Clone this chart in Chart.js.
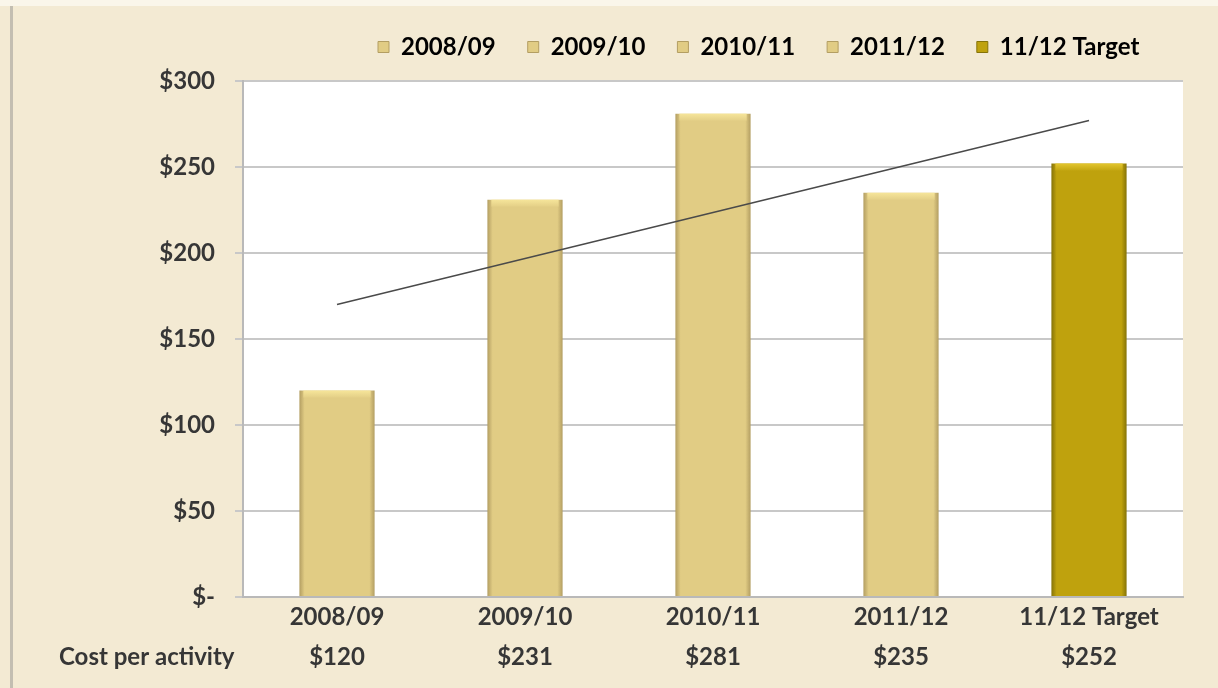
<!DOCTYPE html>
<html>
<head>
<meta charset="utf-8">
<script src="https://cdn.jsdelivr.net/npm/chart.js@4"></script>
<style>
  html, body { margin: 0; padding: 0; background: #F3EAD3; }
  #wrap { width: 1218px; height: 688px; }
</style>
</head>
<body>
<div id="wrap"><canvas id="myChart" width="1218" height="688"></canvas></div>
<script>
"use strict";

const categories = ["2008/09", "2009/10", "2010/11", "2011/12", "11/12 Target"];
const costs = [120, 231, 281, 235, 252];
// trend line ends (first and last category)
const trend = [170, null, null, null, 277];
const yTicks = [0, 50, 100, 150, 200, 250, 300];
const rowTitle = "Cost per activity";

const lightGold = { base: "#E1CC84", edge: "#B39E62", cap: "#F6E59A" };
const darkGold = { base: "#BFA20D", edge: "#857308", cap: "#E3C62E" };
const palette = [lightGold, lightGold, lightGold, lightGold, darkGold];

const ctx = document.getElementById("myChart");
const font = "Lato";
const textColor = "#363636";

function barFill(c) {
  const p = palette[c.dataIndex];
  const chart = c.chart;
  const area = chart.chartArea;
  if (!area || !chart.scales.x) return p.base;
  const x = chart.scales.x.getPixelForValue(c.dataIndex);
  const half = (area.right - area.left) / categories.length * 0.4 / 2;
  const g = chart.ctx.createLinearGradient(x - half, 0, x + half, 0);
  g.addColorStop(0, p.edge);
  g.addColorStop(0.07, p.base);
  g.addColorStop(0.93, p.base);
  g.addColorStop(1, p.edge);
  return g;
}

const backdrop = {
  id: "backdrop",
  beforeLayout(chart) {
    // a bit more room under the legend, like the original
    const lg = chart.legend;
    if (lg && !lg._extraRoom) {
      const fit = lg.fit.bind(lg);
      lg.fit = function () { fit(); this.height += 12; };
      lg._extraRoom = true;
    }
  },
  beforeDraw(chart) {
    const c = chart.ctx;
    const a = chart.chartArea;
    c.save();
    c.fillStyle = "#F3EAD3";
    c.fillRect(0, 0, chart.width, chart.height);
    c.fillStyle = "#FAF6EA";
    c.fillRect(0, 0, chart.width, 6);
    c.fillStyle = "#C3BEB1";
    c.fillRect(10, 6, 3, chart.height - 6);
    c.fillStyle = "#ffffff";
    c.fillRect(a.left, a.top, a.right - a.left, a.bottom - a.top);
    c.restore();
  },
  afterLayout(chart) {
    // legend starts further right in the original
    chart.legend.left = 378 - chart.options.plugins.legend.labels.padding;
  },
  afterDatasetsDraw(chart) {
    const c = chart.ctx;
    const meta = chart.getDatasetMeta(1);
    c.save();
    meta.data.forEach((bar, i) => {
      const p = palette[i];
      const w = bar.width;
      const g = c.createLinearGradient(0, bar.y, 0, bar.y + 8);
      g.addColorStop(0, p.cap);
      g.addColorStop(1, p.base);
      c.fillStyle = g;
      c.fillRect(bar.x - w / 2 + 4, bar.y, w - 8, 7);
    });
    c.restore();
  },
  afterDraw(chart) {
    const c = chart.ctx;
    const a = chart.chartArea;
    c.save();
    c.font = "bold 24px " + font;
    c.fillStyle = textColor;
    c.textAlign = "left";
    c.textBaseline = "middle";
    c.fillText(rowTitle, 59, a.bottom + 60);
    c.restore();
  }
};

new Chart(ctx, {
  data: {
    labels: categories.map((c, i) => [c, "$" + costs[i]]),
    datasets: [
      {
        type: "line",
        data: trend,
        spanGaps: true,
        borderColor: "#4a4a4a",
        borderWidth: 1.5,
        pointRadius: 0,
        order: 0,
      },
      {
        type: "bar",
        data: costs,
        backgroundColor: barFill,
        categoryPercentage: 0.8,
        barPercentage: 0.5,
        order: 1,
      },
    ],
  },
  options: {
    responsive: false,
    animation: false,
    layout: { padding: { top: 3, right: 35, bottom: 11, left: 0 } },
    plugins: {
      tooltip: { enabled: false },
      legend: {
        position: "top",
        align: "start",
        labels: {
          boxWidth: 11,
          boxHeight: 11,
          padding: 32,
          color: textColor,
          font: { family: font, size: 24, weight: "bold" },
          generateLabels() {
            return categories.map((c, i) => ({
              text: c,
              fillStyle: palette[i].base,
              strokeStyle: palette[i].edge,
              lineWidth: 1,
              datasetIndex: 1,
              index: i,
            }));
          },
        },
      },
    },
    scales: {
      x: {
        grid: { display: false, drawTicks: false },
        border: { display: true, color: "#B9B9B9", width: 2 },
        ticks: {
          padding: 0,
          color: textColor,
          font: { family: font, size: 24, weight: "bold", lineHeight: 40 / 24 },
        },
      },
      y: {
        min: 0,
        max: 300,
        afterFit(scale) { scale.width = 243; },
        afterBuildTicks(scale) { scale.ticks = yTicks.map(v => ({ value: v })); },
        grid: { color: "#C8C8C8", lineWidth: 2, tickLength: 8 },
        border: { display: true, color: "#B9B9B9", width: 2 },
        ticks: {
          padding: 20,
          color: textColor,
          font: { family: font, size: 24, weight: "bold" },
          callback: v => (v === 0 ? "$-" : "$" + v),
        },
      },
    },
  },
  plugins: [backdrop],
});
</script>
</body>
</html>
